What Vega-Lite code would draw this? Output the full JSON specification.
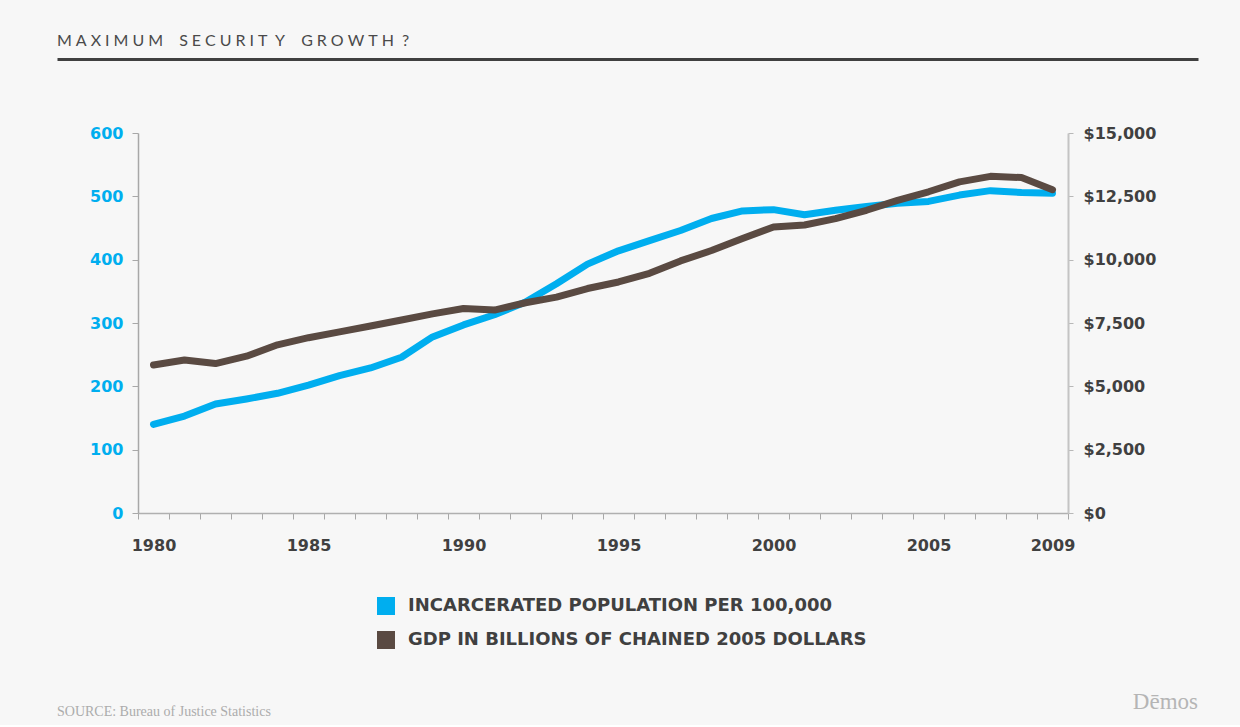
{
  "$schema": "https://vega.github.io/schema/vega-lite/v6.json",
  "background": "#f7f7f7",
  "padding": {"left": 57, "top": 33, "right": 42, "bottom": 6},
  "data": {
    "values": [
      {"year": 1980, "inc": 140, "gdp": 5845},
      {"year": 1981, "inc": 153, "gdp": 6040},
      {"year": 1982, "inc": 172, "gdp": 5900},
      {"year": 1983, "inc": 180, "gdp": 6190},
      {"year": 1984, "inc": 189, "gdp": 6640},
      {"year": 1985, "inc": 202, "gdp": 6920},
      {"year": 1986, "inc": 217, "gdp": 7150},
      {"year": 1987, "inc": 229, "gdp": 7380},
      {"year": 1988, "inc": 246, "gdp": 7620},
      {"year": 1989, "inc": 278, "gdp": 7860},
      {"year": 1990, "inc": 297, "gdp": 8070},
      {"year": 1991, "inc": 313, "gdp": 8010},
      {"year": 1992, "inc": 333, "gdp": 8300},
      {"year": 1993, "inc": 362, "gdp": 8520},
      {"year": 1994, "inc": 393, "gdp": 8860},
      {"year": 1995, "inc": 414, "gdp": 9120},
      {"year": 1996, "inc": 430, "gdp": 9460},
      {"year": 1997, "inc": 446, "gdp": 9950},
      {"year": 1998, "inc": 465, "gdp": 10360},
      {"year": 1999, "inc": 477, "gdp": 10840},
      {"year": 2000, "inc": 479, "gdp": 11290},
      {"year": 2001, "inc": 471, "gdp": 11370},
      {"year": 2002, "inc": 478, "gdp": 11620},
      {"year": 2003, "inc": 484, "gdp": 11950},
      {"year": 2004, "inc": 489, "gdp": 12340},
      {"year": 2005, "inc": 492, "gdp": 12680},
      {"year": 2006, "inc": 502, "gdp": 13070},
      {"year": 2007, "inc": 509, "gdp": 13290},
      {"year": 2008, "inc": 506, "gdp": 13240},
      {"year": 2009, "inc": 505, "gdp": 12760}
    ]
  },
  "title": {
    "text": "Dēmos",
    "orient": "bottom",
    "anchor": "end",
    "frame": "bounds",
    "font": "Liberation Serif",
    "fontSize": 23,
    "fontWeight": "normal",
    "color": "#b5b5b5",
    "offset": 0,
    "dx": -81,
    "dy": -28
  },
  "spacing": 66,
  "resolve": {"legend": {"color": "independent"}},
  "vconcat": [
    {
      "width": 930,
      "height": 0,
      "title": {
        "text": "M\u2005A\u2005X\u2005I\u2005M\u2005U\u2005M\u2005 \u2005\u2005S\u2005E\u2005C\u2005U\u2005R\u2005I\u2005T \u2005Y\u2005 \u2005\u2005G\u2005R\u2005O\u2005W\u2005T\u2005H \u2005?",
        "anchor": "start",
        "frame": "bounds",
        "font": "Lato",
        "fontSize": 16,
        "fontWeight": "normal",
        "color": "#4a4a4a",
        "offset": -10
      },
      "mark": {"type": "point", "opacity": 0, "size": 0},
      "encoding": {
        "x": {
          "field": "year",
          "type": "quantitative",
          "scale": {"zero": false, "range": [-81, 1060]},
          "axis": {
            "domain": true,
            "domainWidth": 3,
            "domainColor": "#404040",
            "ticks": false,
            "labels": false,
            "grid": false,
            "title": null
          }
        }
      }
    },
    {
      "width": 930,
      "height": 380,
      "title": {
        "text": "SOURCE: Bureau of Justice Statistics",
        "orient": "bottom",
        "anchor": "start",
        "frame": "bounds",
        "font": "Liberation Serif",
        "fontSize": 14,
        "fontWeight": "normal",
        "color": "#acacac",
        "offset": 56
      },
      "encoding": {
        "x": {
          "field": "year",
          "type": "ordinal",
          "scale": {"type": "band", "paddingInner": 0, "paddingOuter": 0},
          "axis": {
            "title": null,
            "tickBand": "extent",
            "labelAngle": 0,
            "labelExpr": "((+datum.value) % 5 === 0 || (+datum.value) === 2009) ? datum.label : ''",
            "labelOverlap": false,
            "labelFont": "DejaVu Sans",
            "labelFontWeight": "bold",
            "labelFontSize": 16,
            "labelColor": "#404040",
            "labelPadding": 18,
            "tickSize": 6,
            "tickColor": "#a8a8a8",
            "domainColor": "#b0b0b0",
            "domainWidth": 1.5,
            "grid": false
          }
        }
      },
      "layer": [
        {
          "mark": {"type": "line", "strokeWidth": 7, "strokeCap": "round", "strokeJoin": "round"},
          "encoding": {
            "y": {
              "field": "inc",
              "type": "quantitative",
              "scale": {"domain": [0, 600]},
              "axis": {
                "title": null,
                "values": [0, 100, 200, 300, 400, 500, 600],
                "labelFont": "DejaVu Sans",
                "labelFontWeight": "bold",
                "labelFontSize": 16,
                "labelColor": "#00aeef",
                "labelPadding": 9,
                "tickSize": 6,
                "tickColor": "#a8a8a8",
                "domainColor": "#a8a8a8",
                "domainWidth": 1.5,
                "grid": false,
                "minExtent": 81
              }
            },
            "color": {
              "datum": "INCARCERATED POPULATION PER 100,000",
              "type": "nominal",
              "scale": {
                "domain": ["INCARCERATED POPULATION PER 100,000", "GDP IN BILLIONS OF CHAINED 2005 DOLLARS"],
                "range": ["#00aeef", "#5a4a42"]
              },
              "legend": {
                "title": null,
                "orient": "none",
                "legendX": 239,
                "legendY": 464,
                "direction": "vertical",
                "padding": 0,
                "symbolType": "square",
                "symbolSize": 324,
                "symbolStrokeWidth": 0,
                "symbolOpacity": 1,
                "labelFont": "DejaVu Sans",
                "labelFontWeight": "bold",
                "labelFontSize": 18,
                "labelColor": "#404040",
                "labelOffset": 13,
                "labelLimit": 700,
                "rowPadding": 16,
                "encode": {
                  "symbols": {"update": {"fill": {"scale": "color", "field": "value"}, "fillOpacity": {"value": 1}}}
                }
              }
            }
          }
        },
        {
          "mark": {"type": "line", "strokeWidth": 7, "strokeCap": "round", "strokeJoin": "round"},
          "encoding": {
            "y": {
              "field": "gdp",
              "type": "quantitative",
              "scale": {"domain": [0, 15000]},
              "axis": {
                "orient": "right",
                "title": null,
                "values": [0, 2500, 5000, 7500, 10000, 12500, 15000],
                "format": "$,.0f",
                "labelFont": "DejaVu Sans",
                "labelFontWeight": "bold",
                "labelFontSize": 16,
                "labelColor": "#404040",
                "labelPadding": 10,
                "tickSize": 5,
                "tickColor": "#b8b8b8",
                "domainColor": "#c4c4c4",
                "domainWidth": 2,
                "grid": false
              }
            },
            "color": {"datum": "GDP IN BILLIONS OF CHAINED 2005 DOLLARS", "type": "nominal"}
          }
        }
      ],
      "resolve": {"scale": {"y": "independent"}}
    }
  ],
  "config": {
    "view": {"stroke": null},
    "axis": {"grid": false}
  }
}
